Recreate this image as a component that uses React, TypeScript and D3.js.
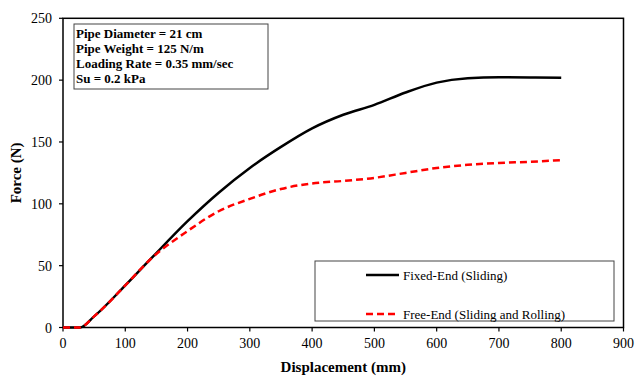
import React from "react";
import * as d3 from "d3";

const displacement = [0, 27, 50, 100, 140, 200, 250, 300, 350, 400, 450, 500, 550, 600, 650, 700, 750, 800];
const fixedEnd = [0, 0, 9, 34, 55, 86, 109, 129, 146, 161, 172, 180, 190, 198, 201.5, 202.3, 202.2, 202];
const freeEnd = [0, 0, 9, 34, 55, 78, 94, 104, 112, 116.5, 118.5, 121, 125, 129, 131.5, 133, 134, 135.3];
const xTicks = [0, 100, 200, 300, 400, 500, 600, 700, 800, 900];
const yTicks = [0, 50, 100, 150, 200, 250];
const infoLines = ["Pipe Diameter = 21 cm", "Pipe Weight = 125 N/m", "Loading Rate = 0.35 mm/sec", "Su = 0.2 kPa"];
const seriesNames = ["Fixed-End (Sliding)", "Free-End (Sliding and Rolling)"];

const W = 636, H = 378;
const L = 63, R = 623.5, T = 18.3, B = 327.5;
const font = "'Liberation Serif', 'Times New Roman', serif";

export default function App() {
  const x = d3.scaleLinear().domain([0, 900]).range([L, R]);
  const y = d3.scaleLinear().domain([0, 250]).range([B, T]);
  const line = (vals: number[]) =>
    d3.line<number>().x((_, i) => x(displacement[i])).y((d) => y(d)).curve(d3.curveMonotoneX)(vals) || "";

  return (
    <svg width={W} height={H} style={{ position: "absolute", left: 0, top: 0, background: "#fff" }} fontFamily={font}>
      <rect x={0} y={0} width={W} height={H} fill="#fff" />
      <rect x={L} y={T} width={R - L} height={B - T} fill="none" stroke="#000" strokeWidth={1.5} />
      {xTicks.map((t) => (
        <g key={"x" + t}>
          <line x1={x(t)} x2={x(t)} y1={B} y2={B + 4} stroke="#000" strokeWidth={1.2} />
          <text x={x(t)} y={B + 20} textAnchor="middle" fontSize={14}>{t}</text>
        </g>
      ))}
      {yTicks.map((t) => (
        <g key={"y" + t}>
          <line x1={L - 4} x2={L} y1={y(t)} y2={y(t)} stroke="#000" strokeWidth={1.2} />
          <text x={L - 11} y={y(t) + 5} textAnchor="end" fontSize={14}>{t}</text>
        </g>
      ))}
      <text x={(L + R) / 2 - 0} y={372} textAnchor="middle" fontSize={15} fontWeight="bold">Displacement (mm)</text>
      <text transform={`translate(21,${(T + B) / 2}) rotate(-90)`} textAnchor="middle" fontSize={15} fontWeight="bold">Force (N)</text>

      <path d={line(fixedEnd)} fill="none" stroke="#000" strokeWidth={2.5} />
      <path d={line(freeEnd)} fill="none" stroke="#ff0000" strokeWidth={2.5} strokeDasharray="7,4" />

      <rect x={74} y={24} width={194} height={65} fill="#fff" stroke="#444" strokeWidth={1} />
      {infoLines.map((s, i) => (
        <text key={s} x={76} y={38 + i * 15} fontSize={13} fontWeight="bold">{s}</text>
      ))}

      <rect x={315} y={261} width={299} height={60} fill="#fff" stroke="#444" strokeWidth={1} />
      <line x1={366} x2={399} y1={275} y2={275} stroke="#000" strokeWidth={2.5} />
      <text x={403} y={279.5} fontSize={13}>{seriesNames[0]}</text>
      <line x1={366} x2={399} y1={314} y2={314} stroke="#ff0000" strokeWidth={2.5} strokeDasharray="7,4" />
      <text x={403} y={318.5} fontSize={13}>{seriesNames[1]}</text>
    </svg>
  );
}
